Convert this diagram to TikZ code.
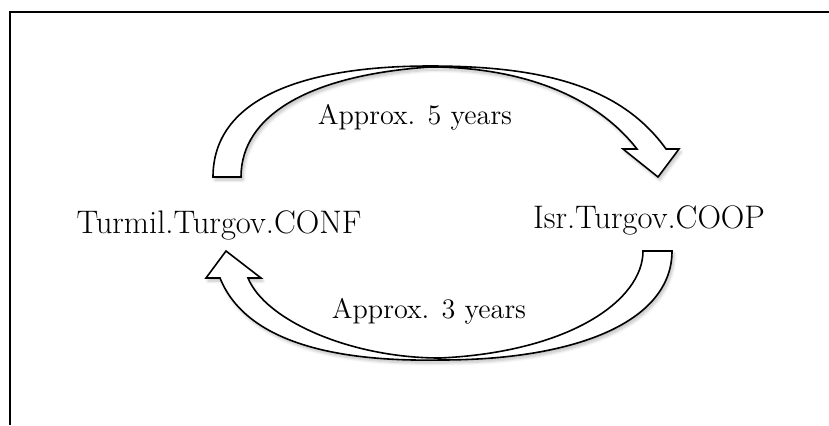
\documentclass[tikz,border=0pt]{standalone}
\usetikzlibrary{shadows.blur}
\begin{document}
\begin{tikzpicture}[x=0.5pt,y=-0.5pt,
  frameline/.style={line width=1.1pt,black},
  bentarrow/.style={draw=black,fill=white,line width=0.8pt,line join=miter,
    blur shadow={shadow xshift=1pt,shadow yshift=-1.5pt,shadow opacity=25,shadow blur steps=6,shadow blur radius=1.5pt}},
  state/.style={font=\fontsize{16.3}{18}\selectfont,anchor=base,inner sep=0pt},
  period/.style={font=\fontsize{14.1}{16}\selectfont,anchor=base,inner sep=0pt}]
\useasboundingbox (0,0) rectangle (829,425);

% open frame: top and left edges only
\coordinate (ftl) at (10,12);
\coordinate (ftr) at (829,12);
\coordinate (fbl) at (10,425);
\draw[frameline] (ftr) -- (ftl) -- (fbl);

% upper curved arrow, from left state to right state (ribbon pinches at the apex)
\path[bentarrow]
  (213,177) .. controls (213,100) and (300,66) .. (430,66)
            .. controls (540,66) and (620,85) .. (666,149)
  -- (679,149) -- (658,177) -- (623,149) -- (637,149)
  .. controls (595,95) and (520,67) .. (430,67)
  .. controls (310,75) and (241,115) .. (241,177) -- cycle;

% lower curved arrow, from right state back to left state
\path[bentarrow]
  (672,251) .. controls (672,320) and (580,360) .. (440,360)
            .. controls (330,362) and (245,340) .. (220,278)
  -- (206,278) -- (226,251) -- (261,278) -- (248,278)
  .. controls (265,320) and (350,358) .. (440,358)
  .. controls (570,352) and (643,300) .. (643,251) -- cycle;

% states
\node[state] (conf) at (219,233) {Turmil.Turgov.CONF};
\node[state] (coop) at (649,228) {Isr.Turgov.COOP};

% transition durations
\node[period] (five)  at (415,124) {Approx. 5 years};
\node[period] (three) at (429,318) {Approx. 3 years};
\end{tikzpicture}
\end{document}
